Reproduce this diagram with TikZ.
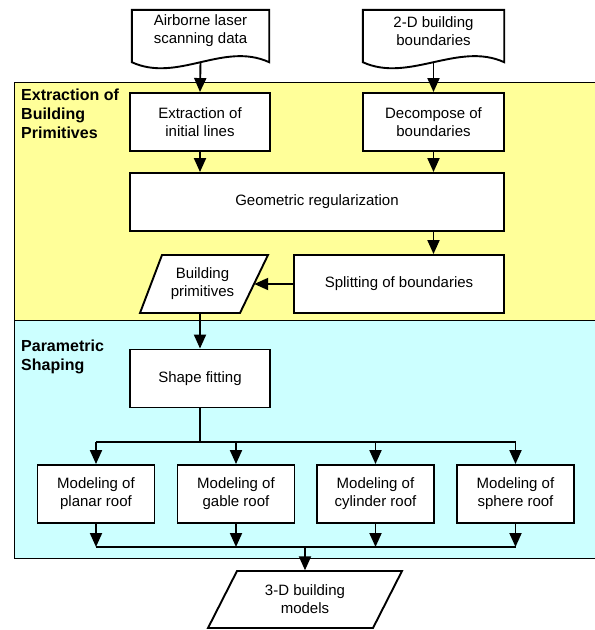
\documentclass[tikz,border=0pt]{standalone}
\usepackage{fontspec}
\setmainfont{Liberation Sans}
\usetikzlibrary{arrows.meta}

\definecolor{bandyellow}{RGB}{255,255,153}
\definecolor{bandcyan}{RGB}{204,255,255}

\begin{document}
\begin{tikzpicture}[x=1pt,y=-1pt,
    every node/.style={font=\fontsize{15}{18}\selectfont, align=center, inner sep=0pt},
    box/.style={draw, line width=1.9pt, fill=white, minimum height=58pt},
    docbox/.style={minimum width=#1, minimum height=42pt},
    slantbody/.style={minimum width=#1, minimum height=58pt},
    stage/.style={anchor=north west, align=left, font=\fontsize{16}{19}\selectfont\bfseries},
    link/.style={line width=1.9pt},
    arr/.style={line width=1.9pt, -{Triangle[width=12pt,length=14pt]}},
    band/.style={draw, line width=0.8pt}]

    \useasboundingbox (0,0) rectangle (595,630);

    % stages
    \draw[band, fill=bandyellow] (14,82) rectangle (600,320);
    \draw[band, fill=bandcyan] (14,320) rectangle (600,558);
    \node[stage] (stage1) at (21,89) {Extraction of\\Building\\Primitives};
    \node[stage] (stage2) at (21,339.5) {Parametric\\Shaping};

    % input documents
    \node[docbox=137pt] (air) at (200.5,31) {Airborne laser\\scanning data};
    \node[docbox=141pt] (bound) at (433.5,31) {2-D building\\boundaries};
    \foreach \d in {air,bound}
        \draw[link] ([yshift=-10pt]\d.south west) -- (\d.north west) -- (\d.north east)
            -- ([yshift=-10pt]\d.south east)
            .. controls +(-46,-21) and +(46,21) .. ([yshift=-10pt]\d.south west) -- cycle;

    \node[box, minimum width=140pt] (lines) at (200,122) {Extraction of\\initial lines};
    \node[box, minimum width=141pt] (decomp) at (433.5,122) {Decompose of\\boundaries};
    \node[box, minimum width=374pt] (geom) at (317,202) {Geometric regularization};
    \node[box, minimum width=210pt] (split) at (399,284) {Splitting of boundaries};

    % parallelograms
    \draw[link, fill=white] (140,313) -- (162,255) -- (268,255) -- (240,313) -- cycle;
    \node[slantbody=103pt] (prim) at (202.5,284) {Building\\primitives};
    \draw[link, fill=white] (208,628) -- (237,571) -- (402,571) -- (373,628) -- cycle;
    \node[slantbody=165pt] (models) at (305,599.5) {3-D building\\models};

    \node[box, minimum width=140pt] (fit) at (200,378.5) {Shape fitting};
    \foreach \x/\n in {96/planar,236/gable,375.5/cylinder,515.5/sphere}
        \node[box, minimum width=117pt] (\n) at (\x,494) {Modeling of\\\n\ roof};

    % flow
    \draw[arr] ([yshift=-10pt]air.south) -- (lines.north);
    \draw[arr] ([yshift=-10pt]bound.south) -- (decomp.north);
    \draw[arr] (lines.south) -- (lines.south |- geom.north);
    \draw[arr] (decomp.south) -- (decomp.south |- geom.north);
    \draw[arr] (decomp.south |- geom.south) -- (decomp.south |- split.north);
    \draw[arr] (split.west) -- (prim.east);
    \draw[arr] (fit.north |- prim.south) -- (fit.north);

    \coordinate (fork) at (fit.south |- 0,442);
    \coordinate (join) at (models.north |- 0,547);
    \draw[link] (fit.south) -- (fork);
    \draw[link] (planar.north |- fork) -- (sphere.north |- fork);
    \draw[link] (planar.south |- join) -- (sphere.south |- join);
    \foreach \n in {planar,gable,cylinder,sphere} {
        \draw[arr] (\n.north |- fork) -- (\n.north);
        \draw[arr] (\n.south) -- (\n.south |- join);
    }
    \draw[arr] (join) -- (models.north);

\end{tikzpicture}
\end{document}
